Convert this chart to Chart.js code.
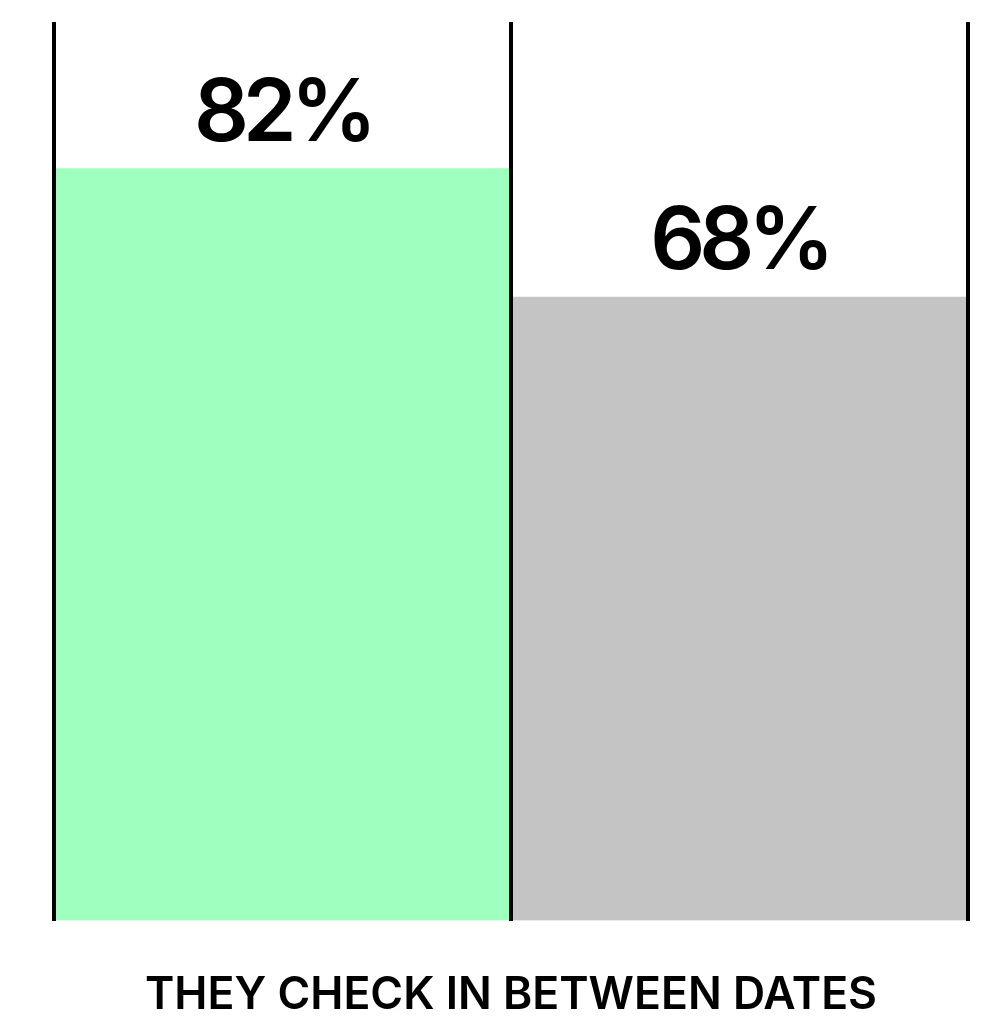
<!DOCTYPE html>
<html>
<head>
<meta charset="utf-8">
<script src="https://cdn.jsdelivr.net/npm/chart.js@4"></script>
<style>
  html, body { margin: 0; padding: 0; background: #fff; }
  #chart { display: block; }
</style>
</head>
<body>
<canvas id="chart" width="992" height="1023"></canvas>
<script>
const categories = ["A", "B"];
const values = [82, 68];
const barColors = ["#9EFFBE", "#C4C4C4"];
const axisTitle = "THEY CHECK IN BETWEEN DATES";
const yMax = 98;

// draws the "82%" style label above each bar
const valueLabels = {
  id: "valueLabels",
  afterDatasetsDraw(chart) {
    const ctx = chart.ctx;
    const meta = chart.getDatasetMeta(0);
    ctx.save();
    ctx.fillStyle = "#000";
    ctx.font = "600 86px Inter";
    ctx.letterSpacing = "-6px";
    ctx.textAlign = "center";
    ctx.textBaseline = "alphabetic";
    meta.data.forEach((bar, i) => {
      ctx.fillText(values[i] + "%", bar.x, bar.y - 28);
    });
    ctx.restore();
  },
};

const ctx = document.getElementById("chart").getContext("2d");
new Chart(ctx, {
  type: "bar",
  data: {
    labels: categories,
    datasets: [
      {
        data: values,
        backgroundColor: barColors,
        borderWidth: 0,
        barPercentage: 1,
        categoryPercentage: 1,
      },
    ],
  },
  options: {
    responsive: false,
    animation: false,
    layout: {
      padding: { left: 54, right: 24, top: 22, bottom: 0 },
    },
    plugins: {
      legend: { display: false },
      tooltip: { enabled: false },
    },
    scales: {
      x: {
        offset: true,
        border: { display: false },
        grid: {
          offset: true,
          color: "#000",
          lineWidth: 4,
          drawTicks: false,
          z: 1,
        },
        ticks: { display: false },
        title: {
          display: true,
          text: axisTitle,
          color: "#000",
          font: { family: "Inter", size: 44.5, weight: "600", lineHeight: 1 },
          padding: { top: 53, bottom: 5 },
        },
      },
      y: {
        display: false,
        min: 0,
        max: yMax,
      },
    },
  },
  plugins: [valueLabels],
});
</script>
</body>
</html>
